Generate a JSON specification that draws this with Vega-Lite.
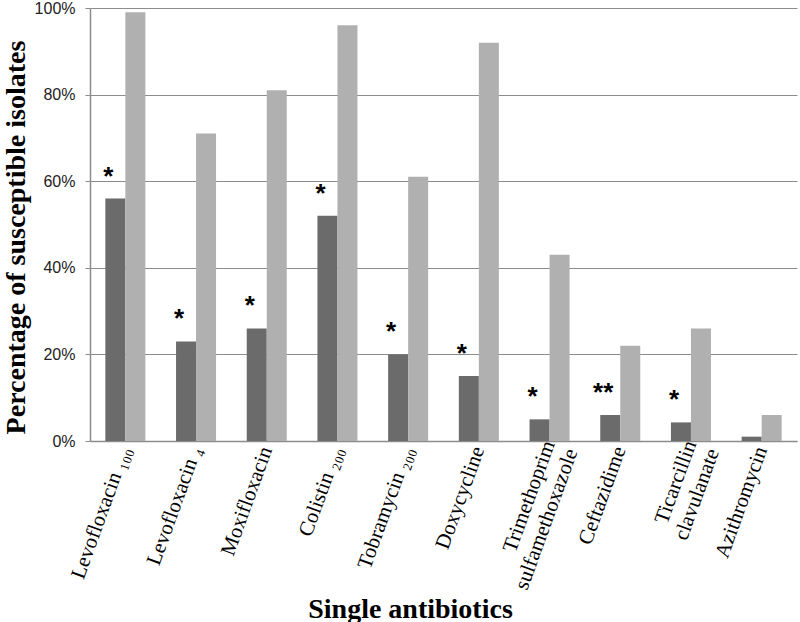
{
  "$schema": "https://vega.github.io/schema/vega-lite/v6.json",
  "width": 707,
  "height": 433,
  "autosize": {"type": "none"},
  "padding": {"left": 90, "top": 8, "right": 3, "bottom": 181},
  "background": "white",
  "config": {"view": {"stroke": null}},
  "data": {
    "values": [
      {"antibiotic": "Levofloxacin ₁₀₀", "group": "Series 1", "value": 0.56, "star": "*"},
      {"antibiotic": "Levofloxacin ₁₀₀", "group": "Series 2", "value": 0.99, "star": ""},
      {"antibiotic": "Levofloxacin ₄", "group": "Series 1", "value": 0.23, "star": "*"},
      {"antibiotic": "Levofloxacin ₄", "group": "Series 2", "value": 0.71, "star": ""},
      {"antibiotic": "Moxifloxacin", "group": "Series 1", "value": 0.26, "star": "*"},
      {"antibiotic": "Moxifloxacin", "group": "Series 2", "value": 0.81, "star": ""},
      {"antibiotic": "Colistin ₂₀₀", "group": "Series 1", "value": 0.52, "star": "*"},
      {"antibiotic": "Colistin ₂₀₀", "group": "Series 2", "value": 0.96, "star": ""},
      {"antibiotic": "Tobramycin ₂₀₀", "group": "Series 1", "value": 0.20, "star": "*"},
      {"antibiotic": "Tobramycin ₂₀₀", "group": "Series 2", "value": 0.61, "star": ""},
      {"antibiotic": "Doxycycline", "group": "Series 1", "value": 0.15, "star": "*"},
      {"antibiotic": "Doxycycline", "group": "Series 2", "value": 0.92, "star": ""},
      {"antibiotic": "Trimethoprim/sulfamethoxazole", "group": "Series 1", "value": 0.05, "star": "*"},
      {"antibiotic": "Trimethoprim/sulfamethoxazole", "group": "Series 2", "value": 0.43, "star": ""},
      {"antibiotic": "Ceftazidime", "group": "Series 1", "value": 0.06, "star": "**"},
      {"antibiotic": "Ceftazidime", "group": "Series 2", "value": 0.22, "star": ""},
      {"antibiotic": "Ticarcillin/clavulanate", "group": "Series 1", "value": 0.043, "star": "*"},
      {"antibiotic": "Ticarcillin/clavulanate", "group": "Series 2", "value": 0.26, "star": ""},
      {"antibiotic": "Azithromycin", "group": "Series 1", "value": 0.01, "star": ""},
      {"antibiotic": "Azithromycin", "group": "Series 2", "value": 0.06, "star": ""}
    ]
  },
  "encoding": {
    "x": {
      "field": "antibiotic",
      "type": "nominal",
      "sort": null,
      "scale": {"paddingInner": 0.434, "paddingOuter": 0.217},
      "axis": {
        "title": "Single antibiotics",
        "titleFont": "Liberation Serif",
        "titleFontSize": 28,
        "titleFontWeight": "bold",
        "titleColor": "black",
        "titleX": 320,
        "titleY": 176,
        "titleBaseline": "alphabetic",
        "titleAlign": "center",
        "labelAngle": -70,
        "labelAlign": "right",
        "labelBaseline": "middle",
        "labelPadding": {"condition": {"test": "indexof(datum.value, '/') > 0", "value": 0}, "value": 6},
        "labelFont": "Liberation Serif",
        "labelFontSize": 21,
        "labelColor": "black",
        "labelLineHeight": 24,
        "labelLimit": 300,
        "labelOverlap": false,
        "labelExpr": "datum.label == 'Trimethoprim/sulfamethoxazole' ? ['Trimethoprim\u00a0\u00a0\u00a0\u00a0\u00a0\u00a0', 'sulfamethoxazole'] : datum.label == 'Ticarcillin/clavulanate' ? ['Ticarcillin\u00a0', 'clavulanate'] : datum.label",
        "ticks": false,
        "domainColor": "#8c8c8c",
        "domainWidth": 1.5
      }
    },
    "xOffset": {"field": "group", "type": "nominal", "sort": ["Series 1", "Series 2"], "scale": {"paddingInner": 0, "paddingOuter": 0}},
    "y": {
      "field": "value",
      "type": "quantitative",
      "scale": {"domain": [0, 1], "nice": false},
      "axis": {
        "format": "%",
        "values": [0, 0.2, 0.4, 0.6, 0.8, 1],
        "tickSize": 5,
        "tickColor": "#8c8c8c",
        "labelPadding": 10,
        "labelFont": "Liberation Sans",
        "labelFontSize": 16,
        "labelColor": "#222222",
        "domainColor": "#8c8c8c",
        "domainWidth": 1.5,
        "gridColor": "#8c8c8c",
        "gridWidth": 1,
        "title": "Percentage of susceptible isolates",
        "titleFont": "Liberation Serif",
        "titleFontSize": 28,
        "titleFontWeight": "bold",
        "titleColor": "black",
        "titleAngle": -90,
        "titleX": -66,
        "titleY": 229,
        "titleBaseline": "alphabetic",
        "titleAlign": "center"
      }
    }
  },
  "layer": [
    {
      "mark": {"type": "bar"},
      "encoding": {
        "color": {
          "field": "group",
          "type": "nominal",
          "scale": {"domain": ["Series 1", "Series 2"], "range": ["#6b6b6b", "#b0b0b0"]},
          "legend": null
        }
      }
    },
    {
      "transform": [{"filter": "datum.star != ''"}],
      "mark": {
        "type": "text",
        "font": "Liberation Sans",
        "fontSize": 26,
        "fontWeight": "bold",
        "baseline": "alphabetic",
        "align": "center",
        "dx": -7,
        "dy": -14,
        "color": "black"
      },
      "encoding": {"text": {"field": "star"}}
    }
  ]
}
